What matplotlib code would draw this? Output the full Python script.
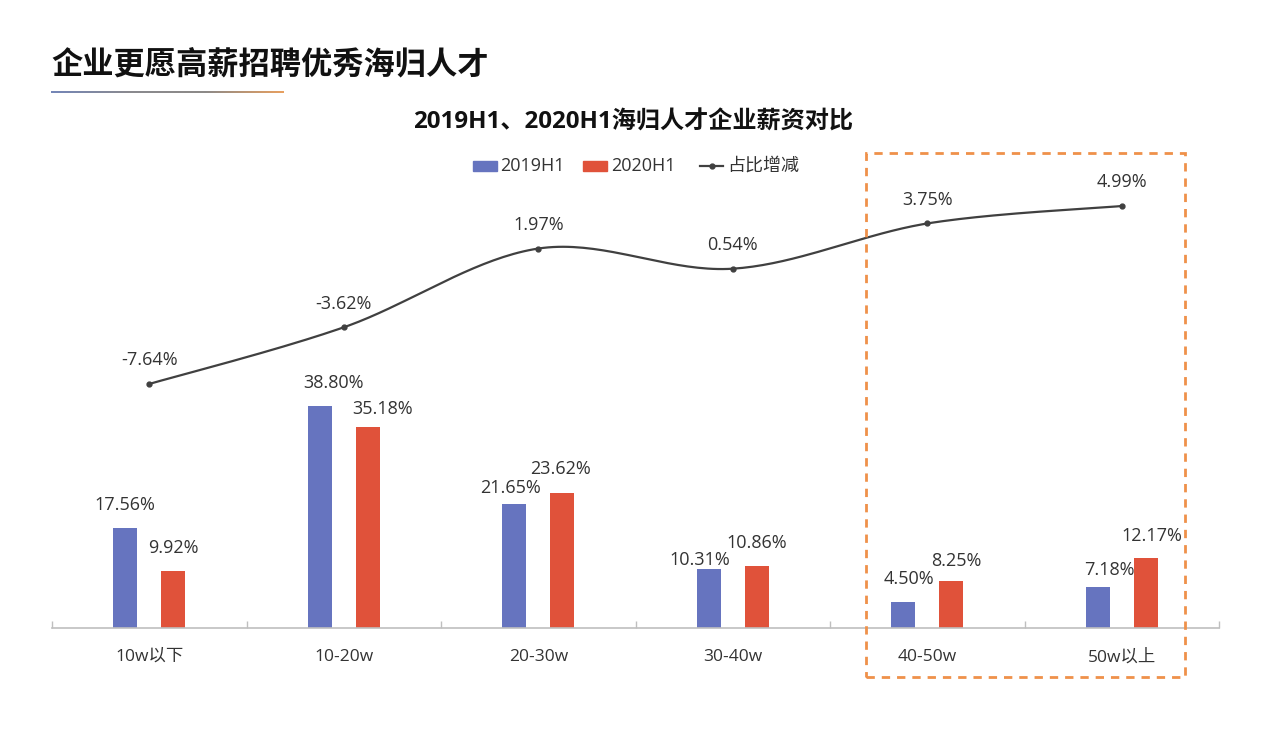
import numpy as np
import matplotlib
matplotlib.use("Agg")
import matplotlib.pyplot as plt
from matplotlib.patches import Rectangle
from matplotlib.lines import Line2D

plt.rcParams['font.family'] = ['Open Sans', 'Noto Sans CJK SC', 'DejaVu Sans']

# ---- data ----
categories = ['10w以下', '10-20w', '20-30w', '30-40w', '40-50w', '50w以上']
s2019 = [17.56, 38.80, 21.65, 10.31, 4.50, 7.18]
s2020 = [9.92, 35.18, 23.62, 10.86, 8.25, 12.17]
change = [-7.64, -3.62, 1.97, 0.54, 3.75, 4.99]
series_names = ['2019H1', '2020H1', '占比增减']
main_title = '企业更愿高薪招聘优秀海归人才'
chart_title = '2019H1、2020H1海归人才企业薪资对比'

# label nudges (pixels) - styling only
lab19_dx = [0, 14, -4, -9, 6, 12]
lab19_dy = [2, 2, -5, -12, 2, -4]
lab20_dx = [0, 15, -2, 0, 5, 6]
lab20_dy = [2, -3, 3, 2, -1, 2]

W, H = 1280, 740
fig = plt.figure(figsize=(12.8, 7.4), dpi=100)
fig.patch.set_facecolor('white')

def fx(px):
    return px / W

def fy(py):
    return 1 - py / H

BLUE = '#6674BF'
RED = '#E0523A'
LINEC = '#404040'
TXT = '#333333'
LAB_FS = 13

# main axes
ax_l, ax_r, ax_b, ax_t = 52, 1219, 628, 140
ax = fig.add_axes([fx(ax_l), fy(ax_b), (ax_r - ax_l) / W, (ax_b - ax_t) / H])
ax.set_facecolor('none')
px_per_pct = 5.72
ax.set_ylim(0, (ax_b - ax_t) / px_per_pct)
n = len(categories)
x = np.arange(n)
ax.set_xlim(-0.5, n - 0.5)
bw = 0.124
off = 0.124
ax.bar(x - off, s2019, bw, color=BLUE)
ax.bar(x + off, s2020, bw, color=RED)

for i in range(n):
    ax.annotate(f'{s2019[i]:.2f}%', (x[i] - off, s2019[i]), xytext=(lab19_dx[i] * 0.72, 15 + lab19_dy[i] * 0.72),
                textcoords='offset points', ha='center', va='center', fontsize=LAB_FS, color=TXT)
    ax.annotate(f'{s2020[i]:.2f}%', (x[i] + off, s2020[i]), xytext=(lab20_dx[i] * 0.72, 15 + lab20_dy[i] * 0.72),
                textcoords='offset points', ha='center', va='center', fontsize=LAB_FS, color=TXT)

for sp in ['top', 'right', 'left']:
    ax.spines[sp].set_visible(False)
ax.spines['bottom'].set_color('#bfbfbf')
ax.spines['bottom'].set_linewidth(1.2)
ax.set_yticks([])
ax.set_xticks(x)
ax.set_xticklabels(categories, fontsize=12.5, color=TXT)
ax.tick_params(axis='x', which='major', length=0, pad=15)
ax.set_xticks(np.arange(n + 1) - 0.5, minor=True)
ax.tick_params(axis='x', which='minor', direction='in', length=5, color='#bfbfbf', width=1)

# line axes
ax2 = ax.twinx()
ax2.set_facecolor('none')
px_per_unit = 14.09
ref_v, ref_px = 4.99, 206
ax2.set_ylim(ref_v - (ax_b - ref_px) / px_per_unit, ref_v + (ref_px - ax_t) / px_per_unit)
ax2.axis('off')

# smooth curve (Catmull-Rom style bezier, like spreadsheet smoothing)
P = np.column_stack([x.astype(float), np.array(change)])
t = np.linspace(0, 1, 40)
curve = []
for i in range(n - 1):
    p0 = P[i]
    p3 = P[i + 1]
    pm = P[i - 1] if i > 0 else P[i]
    pp = P[i + 2] if i + 2 < n else P[i + 1]
    c1 = p0 + (p3 - pm) / 6
    c2 = p3 - (pp - p0) / 6
    seg = ((1 - t) ** 3)[:, None] * p0 + (3 * (1 - t) ** 2 * t)[:, None] * c1 + \
          (3 * (1 - t) * t ** 2)[:, None] * c2 + (t ** 3)[:, None] * p3
    curve.append(seg)
curve = np.vstack(curve)
ax2.plot(curve[:, 0], curve[:, 1], color=LINEC, lw=1.6)
ax2.plot(x, change, 'o', color=LINEC, ms=3.5)
for i in range(n):
    ax2.annotate(f'{change[i]:.2f}%', (x[i], change[i]), xytext=(0, 17), textcoords='offset points',
                 ha='center', va='center', fontsize=LAB_FS, color=TXT)

# titles
fig.text(fx(51), fy(64), main_title, fontsize=22.5, fontweight='bold', color='#111111', ha='left', va='center',
         family=['Noto Sans CJK SC', 'DejaVu Sans'])
fig.text(fx(633), fy(123), chart_title, fontsize=17.4, fontweight='bold', color='#111111', ha='center', va='center')

# gradient underline
gax = fig.add_axes([fx(51), fy(93.2), fx(284 - 51), 2.4 / H])
gax.axis('off')
cm = matplotlib.colors.LinearSegmentedColormap.from_list('g', ['#7486b8', '#8a8a8f', '#8d8a88', '#e8a060'])
gax.imshow(np.linspace(0, 1, 256)[None, :], aspect='auto', cmap=cm, extent=(0, 1, 0, 1))

# legend (manual)
fig.add_artist(Rectangle((fx(473), fy(171)), fx(24), 10 / H, color=BLUE, transform=fig.transFigure))
fig.text(fx(500), fy(166), series_names[0], fontsize=13, color=TXT, va='center', ha='left')
fig.add_artist(Rectangle((fx(583), fy(171)), fx(24), 10 / H, color=RED, transform=fig.transFigure))
fig.text(fx(611), fy(166), series_names[1], fontsize=13, color=TXT, va='center', ha='left')
fig.add_artist(Line2D([fx(700), fx(723)], [fy(166), fy(166)], color=LINEC, lw=1.6, transform=fig.transFigure))
fig.add_artist(Line2D([fx(711.5)], [fy(166)], marker='o', ms=3.5, color=LINEC, transform=fig.transFigure))
fig.text(fx(727), fy(166), series_names[2], fontsize=13, color=TXT, va='center', ha='left',
         family=['Noto Sans CJK SC', 'DejaVu Sans'])

# highlight box
fig.add_artist(Rectangle((fx(866), fy(677)), fx(1185 - 866), (677 - 153) / H, fill=False,
                         edgecolor='#EF914A', lw=2, linestyle=(0, (3, 2.5)), transform=fig.transFigure))

fig.savefig('out.png', dpi=100, facecolor='white')
